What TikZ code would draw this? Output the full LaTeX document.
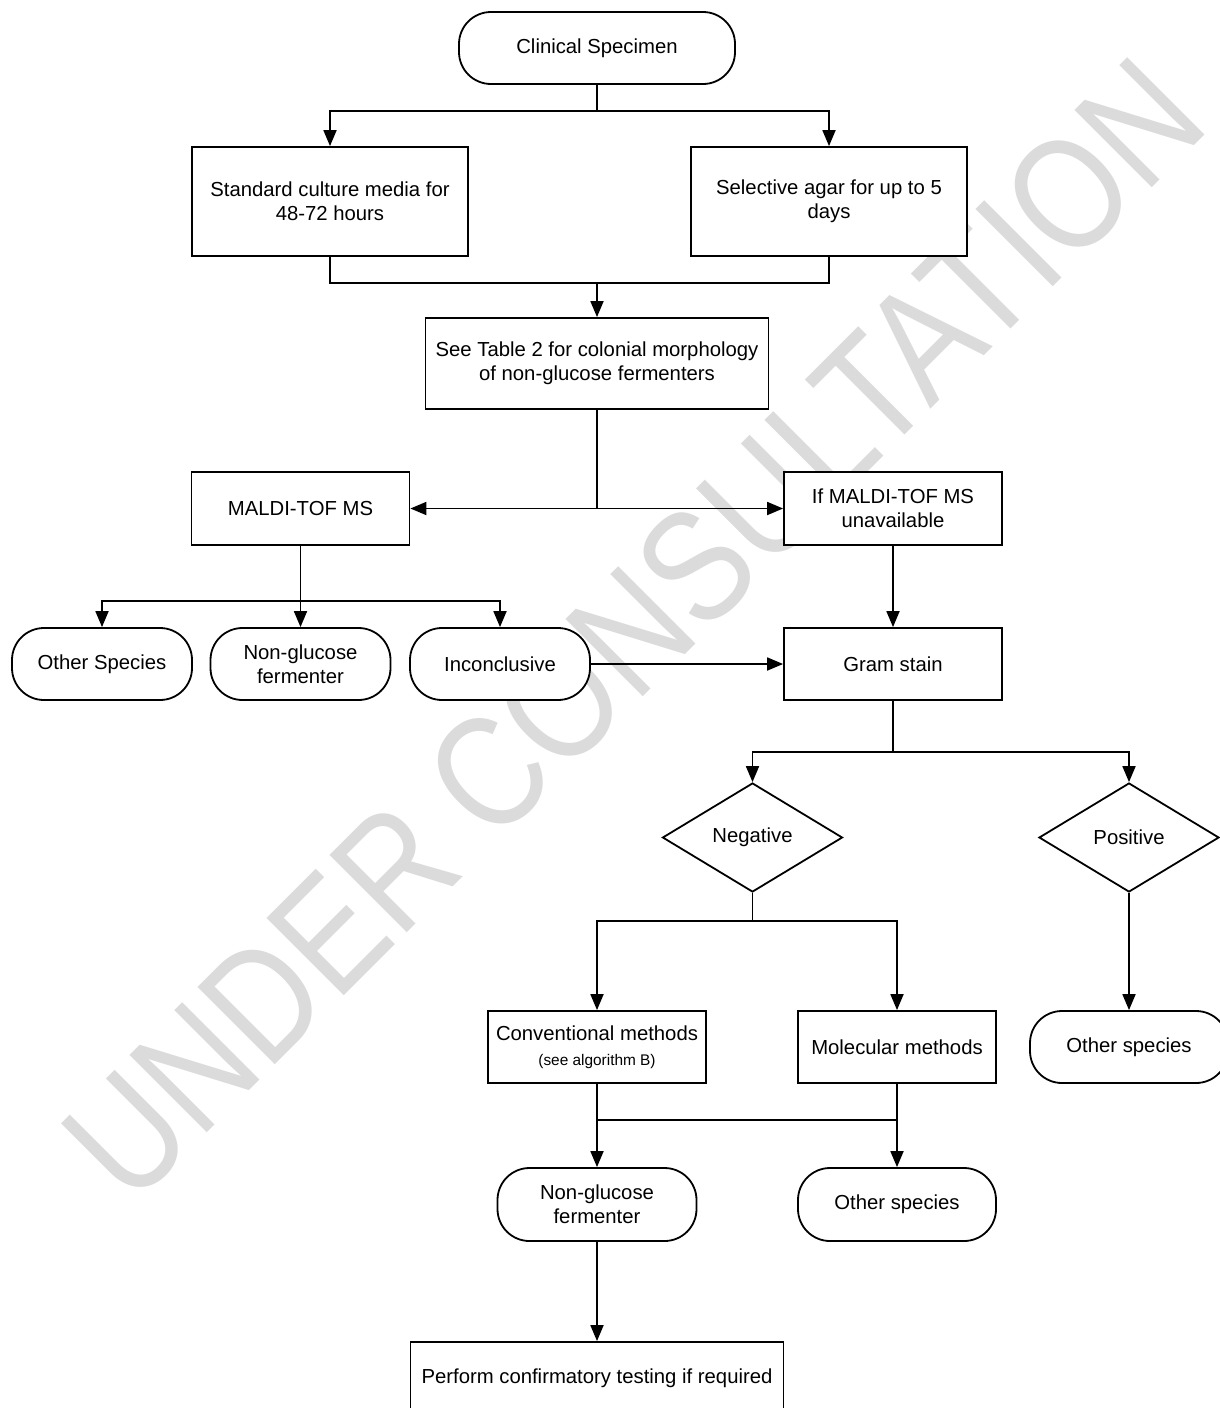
\documentclass[tikz,border=0pt]{standalone}
\usepackage{fontspec}
\setmainfont{Liberation Sans}
\usepackage{tikz}
\usetikzlibrary{arrows.meta,shapes.geometric}
\tikzset{>={Triangle[length=8pt,width=6.5pt]}}
\tikzset{
  base/.style={draw=black, fill=white, inner sep=0pt, align=center, font=\fontsize{10.15pt}{12pt}\selectfont},
  procbox/.style={base, rectangle},
  termbox/.style={base, rectangle, rounded corners=16pt},
  decbox/.style={base, diamond, minimum width=90pt, minimum height=54.5pt},
  mark text/.style={text=black!14, inner sep=0pt, anchor=base, font=\fontsize{79.5pt}{80pt}\selectfont}
}

\begin{document}
\begin{tikzpicture}[x=0.5pt,y=-0.5pt,line width=0.9pt]
                \clip (0,0) rectangle (1220,1408);
                \node[mark text, rotate=45] (wm) at (672,668) {\scalebox{0.84}[1]{UNDER CONSULTATION}};

                \node[termbox, minimum width=138pt, minimum height=36pt] (spec) at (597,48) {Clinical Specimen};
                \node[procbox, minimum width=138pt, minimum height=54.5pt] (std) at (330,201.5) {Standard culture media for\\48-72 hours};
                \node[procbox, minimum width=138pt, minimum height=54.5pt] (sel) at (829,201.5) {Selective agar for up to 5\\days};
                \node[procbox, minimum width=171.5pt, minimum height=45.5pt] (tab) at (597,363.5) {See Table 2 for colonial morphology\\of non-glucose fermenters};

                \node[procbox, minimum width=109pt, minimum height=36.5pt] (maldi) at (300.5,508.5) {MALDI-TOF MS};
                \node[procbox, minimum width=109pt, minimum height=36.5pt] (unav) at (893,508.5) {If MALDI-TOF MS\\unavailable};

                \node[termbox, minimum width=90pt, minimum height=36pt] (oth1) at (102,664) {Other Species};
                \node[termbox, minimum width=90pt, minimum height=36pt] (ngf1) at (300.5,664) {Non-glucose\\fermenter};
                \node[termbox, minimum width=90pt, minimum height=36pt] (inc) at (500,664) {Inconclusive};
                \node[procbox, minimum width=109pt, minimum height=36pt] (gram) at (893,664) {Gram stain};

                \node[decbox] (neg) at (752.5,837.5) {Negative};
                \node[decbox] (pos) at (1129,837.5) {Positive};

                \node[procbox, minimum width=109pt, minimum height=36pt] (conv) at (597,1047) {Conventional methods\\[0.5pt]{\fontsize{7.7pt}{9pt}\selectfont (see algorithm B)}};
                \node[procbox, minimum width=99pt, minimum height=36pt] (mol) at (897,1047) {Molecular methods};
                \node[termbox, minimum width=99pt, minimum height=36pt] (oth2) at (1129,1047) {Other species};

                \node[termbox, minimum width=99.5pt, minimum height=36.5pt] (ngf2) at (597,1204.5) {Non-glucose\\fermenter};
                \node[termbox, minimum width=99pt, minimum height=36.5pt] (oth3) at (897,1204.5) {Other species};

                \node[procbox, minimum width=186.5pt, minimum height=36pt] (conf) at (597,1378) {Perform confirmatory testing if required};

                \coordinate (j1) at (597,111);
                \coordinate (j2) at (597,283);
                \coordinate (j3) at (597,508.5);
                \coordinate (j4) at (300.5,601);
                \coordinate (j5) at (893,752);
                \coordinate (j6) at (752.5,921);
                \coordinate (j7) at (597,1120);
                \coordinate (j8) at (897,1120);

                \draw (spec) -- (j1);
                \draw[->] (j1) -| (std.north);
                \draw[->] (j1) -| (sel.north);
                \draw (std.south) |- (j2);
                \draw (sel.south) |- (j2);
                \draw[->] (j2) -- (tab.north);

                \draw (tab) -- (j3);
                \draw[->] (j3) -- (maldi.east);
                \draw[->] (j3) -- (unav.west);

                \draw (maldi) -- (j4);
                \draw[->] (j4) -| (oth1.north);
                \draw[->] (j4) -- (ngf1.north);
                \draw[->] (j4) -| (inc.north);
                \draw[->] (unav) -- (gram);
                \draw[->] (inc) -- (gram);

                \draw (gram) -- (j5);
                \draw[->] (j5) -| (neg.north);
                \draw[->] (j5) -| (pos.north);
                \draw (neg.south) -- (j6);
                \draw[->] (j6) -| (conv.north);
                \draw[->] (j6) -| (mol.north);
                \draw[->] (pos.south) -- (oth2.north);

                \draw (conv) -- (j7) -- (j8);
                \draw (mol) -- (j8);
                \draw[->] (j7) -- (ngf2.north);
                \draw[->] (j8) -- (oth3.north);
                \draw[->] (ngf2) -- (conf);
\end{tikzpicture}
\end{document}
